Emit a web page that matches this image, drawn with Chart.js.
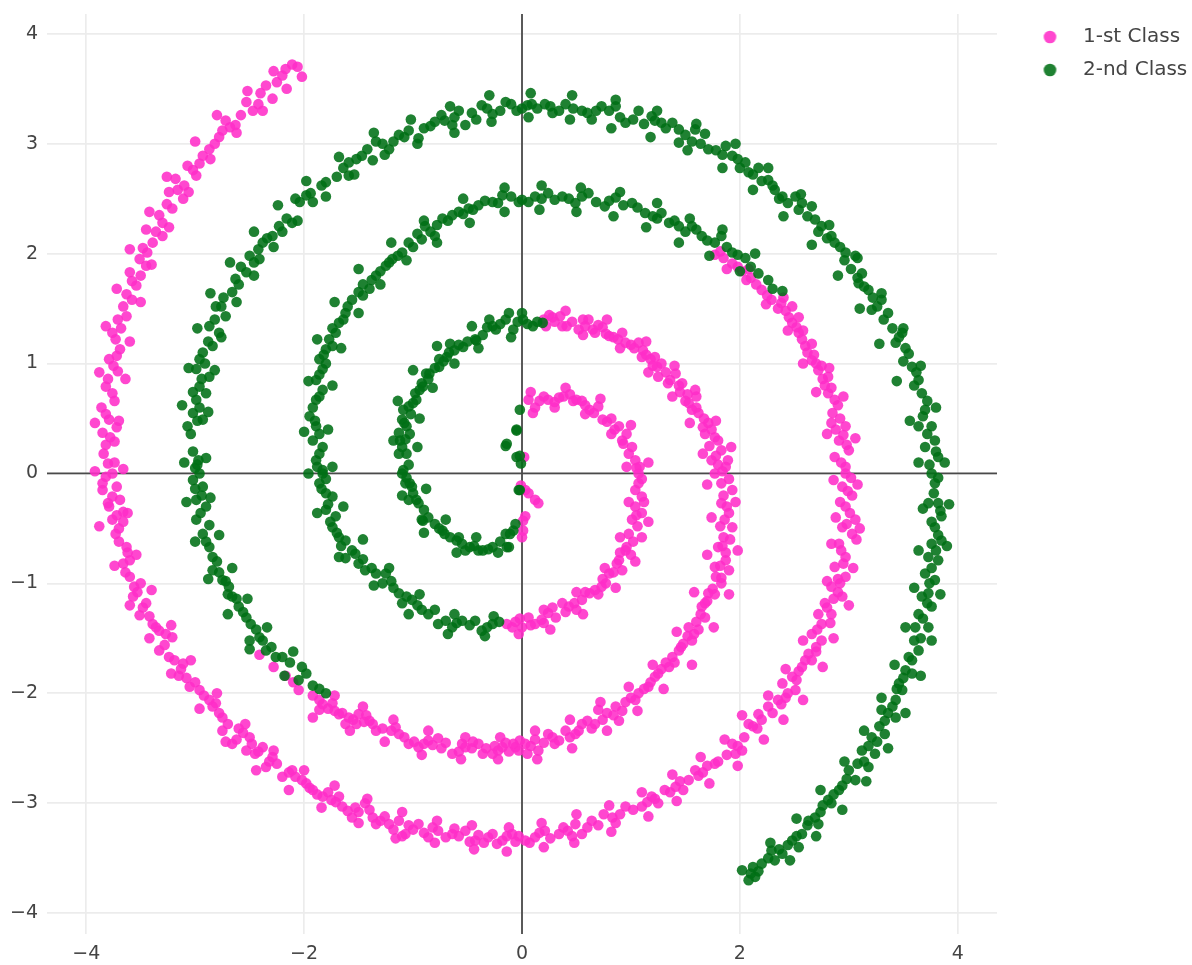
<!DOCTYPE html>
<html><head><meta charset="utf-8">
<script src="https://cdn.jsdelivr.net/npm/chart.js@4.4.1/dist/chart.umd.min.js"></script>
<style>html,body{margin:0;padding:0;background:#fff;}#wrap{width:1192px;height:965px;}</style>
</head><body><div id="wrap"><canvas id="c" width="1192" height="965"></canvas></div>
<script>
const seriesNames = ['1-st Class', '2-nd Class'];
const xTicks = [-4, -2, 0, 2, 4];
const yTicks = [-4, -3, -2, -1, 0, 1, 2, 3, 4];
const xRange = [-4.36, 4.36];
const yRange = [-4.19, 4.18];

// 1-st Class (pink) arms
const class1Center = [[0.02,0.15],[-0.01,-0.11],[0.03,-0.15],[0.06,-0.18],[0.12,-0.24],[0.15,-0.27],[0.03,-0.39],[0.01,-0.43],[0.0,-0.58],[0.01,-0.52]];
const class1Inner = [[0.06,0.67],[0.10,0.55],[0.12,0.60],[0.24,0.67],[0.30,0.65],[0.38,0.70],[0.44,0.72],[0.50,0.67],[0.55,0.66],[0.62,0.58],[0.70,0.61],[0.74,0.49],[0.78,0.47],[0.89,0.43],[0.92,0.30],[0.93,0.27],[1.01,0.24],[1.04,0.12],[1.05,0.05],[1.07,0.0],[1.10,-0.05],[1.07,-0.09],[1.10,-0.21],[1.04,-0.30],[1.10,-0.36],[1.01,-0.42],[1.06,-0.48],[1.10,-0.58],[0.98,-0.55],[0.96,-0.67],[0.95,-0.70],[0.89,-0.79],[0.92,-0.88],[0.87,-0.82],[0.80,-0.91],[0.77,-1.00],[0.73,-1.03],[0.67,-1.06],[0.62,-1.09],[0.55,-1.15],[0.48,-1.18],[0.43,-1.21],[0.37,-1.18],[0.31,-1.31],[0.24,-1.27],[0.18,-1.33],[0.12,-1.37],[0.06,-1.31],[0.0,-1.40],[-0.03,-1.46],[-0.06,-1.35],[-0.14,-1.37]];
const class1InnerB = [[0.16,0.66],[0.20,0.70],[0.34,0.69],[0.47,0.66],[0.58,0.62],[0.66,0.55],[0.82,0.50],[0.85,0.40],[0.96,0.36],[0.98,0.18],[1.08,0.06],[1.04,-0.15],[1.12,-0.26],[1.05,-0.38],[1.02,-0.62],[1.00,-0.74],[0.90,-0.72],[0.84,-0.90],[0.74,-0.96],[0.70,-1.10],[0.58,-1.08],[0.50,-1.24],[0.40,-1.26],[0.28,-1.22],[0.20,-1.36],[0.08,-1.38],[-0.02,-1.32],[-0.09,-1.40]];
const class1InnerC = [[0.08,0.74],[0.30,0.60],[0.40,0.78],[0.58,0.54],[0.72,0.68],[0.82,0.36],[1.00,0.44],[0.96,0.06],[1.16,0.10],[0.98,-0.26],[1.16,-0.44],[0.90,-0.58],[1.04,-0.80],[0.76,-0.86],[0.86,-1.04],[0.50,-1.08],[0.56,-1.28],[0.20,-1.24],[0.26,-1.42]];
const class1Middle = [[0.20,1.40],[0.25,1.44],[0.30,1.38],[0.35,1.43],[0.37,1.34],[0.41,1.34],[0.52,1.31],[0.56,1.40],[0.61,1.40],[0.65,1.31],[0.67,1.28],[0.74,1.33],[0.80,1.25],[0.84,1.24],[0.92,1.28],[0.95,1.19],[1.00,1.17],[1.07,1.19],[1.11,1.12],[1.10,1.06],[1.18,1.04],[1.22,1.06],[1.24,0.97],[1.28,1.00],[1.25,0.88],[1.36,0.85],[1.41,0.91],[1.44,0.80],[1.47,0.82],[1.52,0.72],[1.59,0.76],[1.53,0.64],[1.60,0.60],[1.62,0.55],[1.71,0.46],[1.66,0.42],[1.68,0.36],[1.77,0.33],[1.72,0.25],[1.83,0.21],[1.74,0.12],[1.80,0.08],[1.87,0.06],[1.77,0.0],[1.83,-0.09],[1.93,-0.15],[1.85,-0.20],[1.83,-0.27],[1.90,-0.36],[1.86,-0.42],[1.93,-0.49],[1.85,-0.58],[1.80,-0.67],[1.87,-0.72],[1.87,-0.79],[1.77,-0.85],[1.90,-0.88],[1.83,-0.95],[1.83,-1.00],[1.75,-1.05],[1.71,-1.09],[1.70,-1.16],[1.65,-1.21],[1.68,-1.31],[1.60,-1.35],[1.53,-1.40],[1.58,-1.46],[1.56,-1.52],[1.48,-1.55],[1.44,-1.61],[1.38,-1.67],[1.35,-1.76],[1.28,-1.78],[1.22,-1.85],[1.16,-1.94],[1.07,-2.00],[1.04,-2.06],[0.95,-2.08],[0.86,-2.12],[0.89,-2.25],[0.78,-2.18],[0.70,-2.15],[0.67,-2.28],[0.60,-2.25],[0.55,-2.28],[0.49,-2.37],[0.40,-2.34],[0.34,-2.43],[0.24,-2.37],[0.20,-2.45],[0.15,-2.52],[0.08,-2.48],[0.03,-2.46],[-0.03,-2.52],[-0.02,-2.43],[-0.06,-2.49],[-0.12,-2.53],[-0.18,-2.49],[-0.22,-2.52],[-0.27,-2.55],[-0.33,-2.50],[-0.40,-2.46],[-0.46,-2.50],[-0.52,-2.49],[-0.58,-2.53],[-0.64,-2.55],[-0.77,-2.41],[-0.82,-2.47],[-0.86,-2.43],[-0.95,-2.49],[-0.99,-2.44],[-1.04,-2.46],[-1.13,-2.37],[-1.16,-2.31],[-1.34,-2.34],[-1.37,-2.28],[-1.40,-2.25],[-1.45,-2.26],[-1.50,-2.19],[-1.55,-2.24],[-1.59,-2.22],[-1.62,-2.28],[-1.68,-2.19],[-1.74,-2.09],[-1.78,-2.14],[-1.86,-2.06],[-1.86,-2.15],[-2.05,-1.97],[-2.17,-1.84],[-2.41,-1.65]];
const class1MiddleB = [[0.28,1.42],[0.46,1.38],[0.58,1.34],[0.70,1.35],[0.77,1.27],[0.88,1.22],[1.03,1.14],[1.14,1.08],[1.20,0.98],[1.32,0.92],[1.34,0.82],[1.45,0.74],[1.50,0.66],[1.56,0.58],[1.67,0.50],[1.74,0.40],[1.80,0.30],[1.78,0.16],[1.89,0.12],[1.84,0.02],[1.90,-0.05],[1.88,-0.30],[1.82,-0.48],[1.91,-0.60],[1.84,-0.66],[1.82,-0.84],[1.78,-0.94],[1.77,-1.10],[1.68,-1.18],[1.64,-1.28],[1.62,-1.42],[1.52,-1.48],[1.46,-1.58],[1.40,-1.72],[1.32,-1.72],[1.25,-1.82],[1.18,-1.90],[1.12,-1.96],[1.00,-2.04],[0.92,-2.16],[0.84,-2.20],[0.74,-2.24],[0.64,-2.32],[0.52,-2.34],[0.44,-2.40],[0.30,-2.46],[0.28,-2.40],[0.12,-2.42],[0.05,-2.55],[-0.08,-2.46],[-0.15,-2.45],[-0.25,-2.48],[-0.36,-2.55],[-0.45,-2.44],[-0.55,-2.46],[-0.70,-2.45],[-0.74,-2.50],[-0.90,-2.46],[-1.08,-2.40],[-1.20,-2.34],[-1.28,-2.32],[-1.43,-2.20],[-1.52,-2.28],[-1.65,-2.18],[-1.72,-2.16],[-1.83,-2.10],[-1.92,-2.02],[-2.10,-1.90],[-2.28,-1.76]];
const class1MiddleC = [[0.22,1.34],[0.40,1.48],[0.56,1.26],[0.78,1.40],[0.90,1.14],[1.14,1.20],[1.16,0.92],[1.40,0.98],[1.38,0.70],[1.60,0.70],[1.54,0.46],[1.78,0.48],[1.66,0.18],[1.92,0.24],[1.70,-0.10],[1.96,-0.26],[1.74,-0.40],[1.98,-0.70],[1.70,-0.74],[1.90,-1.10],[1.58,-1.08],[1.76,-1.40],[1.42,-1.44],[1.56,-1.74],[1.20,-1.74],[1.30,-1.96],[0.98,-1.94],[1.06,-2.16],[0.72,-2.08],[0.78,-2.34],[0.44,-2.24],[0.46,-2.50],[0.12,-2.34],[0.14,-2.60],[-0.20,-2.40],[-0.22,-2.60],[-0.52,-2.40],[-0.56,-2.60],[-0.86,-2.34],[-0.92,-2.56],[-1.18,-2.24],[-1.26,-2.44],[-1.46,-2.12],[-1.58,-2.34],[-1.72,-2.02],[-1.92,-2.22]];
const class1Outer = [[1.77,1.99],[1.85,1.96],[1.93,1.91],[2.02,1.84],[2.10,1.78],[2.20,1.67],[2.29,1.58],[2.38,1.55],[2.48,1.52],[2.45,1.42],[2.48,1.37],[2.54,1.28],[2.57,1.22],[2.60,1.16],[2.66,1.03],[2.70,1.00],[2.72,0.94],[2.81,0.88],[2.78,0.80],[2.81,0.73],[2.87,0.67],[2.85,0.55],[2.84,0.46],[2.97,0.43],[2.91,0.30],[2.95,0.35],[3.00,0.21],[2.87,0.15],[2.97,0.06],[2.97,0.0],[2.94,-0.12],[3.03,-0.20],[2.97,-0.30],[3.06,-0.42],[2.94,-0.49],[3.03,-0.55],[2.91,-0.64],[2.97,-0.76],[2.93,-0.70],[2.87,-0.85],[2.97,-0.94],[2.84,-1.03],[2.90,-1.08],[2.94,-1.12],[2.78,-1.18],[2.84,-1.28],[2.80,-1.22],[2.75,-1.37],[2.66,-1.46],[2.75,-1.52],[2.70,-1.58],[2.63,-1.64],[2.57,-1.76],[2.60,-1.70],[2.48,-1.85],[2.39,-1.91],[2.51,-1.97],[2.44,-2.00],[2.35,-2.06],[2.26,-2.12],[2.30,-2.18],[2.17,-2.19],[2.08,-2.28],[2.12,-2.30],[1.93,-2.46],[2.02,-2.52],[1.96,-2.55],[1.80,-2.62],[1.77,-2.64],[1.59,-2.70],[1.53,-2.79],[1.62,-2.75],[1.41,-2.85],[1.48,-2.88],[1.31,-2.88],[1.19,-2.94],[1.25,-3.00],[1.10,-3.03],[0.95,-3.03],[0.83,-3.13],[0.75,-3.10],[0.64,-3.16],[0.49,-3.19],[0.55,-3.28],[0.42,-3.25],[0.34,-3.28],[0.21,-3.25],[0.12,-3.31],[0.03,-3.34],[-0.03,-3.30],[-0.09,-3.28],[-0.18,-3.34],[-0.27,-3.28],[-0.35,-3.36],[-0.43,-3.34],[-0.52,-3.25],[-0.58,-3.30],[-0.64,-3.28],[-0.77,-3.25],[-0.86,-3.31],[-0.95,-3.19],[-1.00,-3.24],[-1.07,-3.28],[-1.13,-3.16],[-1.22,-3.19],[-1.30,-3.16],[-1.37,-3.13],[-1.44,-3.00],[-1.50,-3.08],[-1.56,-3.13],[-1.65,-3.03],[-1.68,-2.94],[-1.75,-2.97],[-1.83,-2.94],[-1.92,-2.88],[-1.98,-2.82],[-2.08,-2.76],[-2.14,-2.72],[-2.20,-2.76],[-2.29,-2.58],[-2.35,-2.67],[-2.38,-2.49],[-2.45,-2.55],[-2.50,-2.40],[-2.53,-2.52],[-2.60,-2.32],[-2.66,-2.46],[-2.75,-2.22],[-2.75,-2.34],[-2.81,-2.09],[-2.87,-2.06],[-2.96,-1.97],[-3.05,-1.94],[-3.15,-1.84],[-3.11,-1.73],[-3.24,-1.67],[-3.33,-1.61],[-3.21,-1.49],[-3.33,-1.43],[-3.39,-1.37],[-3.51,-1.29],[-3.45,-1.18],[-3.57,-1.12],[-3.56,-1.03],[-3.60,-0.94],[-3.66,-0.82],[-3.60,-0.79],[-3.63,-0.67],[-3.73,-0.55],[-3.66,-0.44],[-3.76,-0.42],[-3.66,-0.35],[-3.79,-0.30],[-3.69,-0.24],[-3.76,-0.21],[-3.85,-0.15],[-3.85,-0.09],[-3.76,0.0],[-3.80,0.09],[-3.82,0.26],[-3.74,0.29],[-3.85,0.37],[-3.79,0.49],[-3.86,0.60],[-3.76,0.73],[-3.82,0.79],[-3.71,0.93],[-3.79,1.04],[-3.69,1.13],[-3.73,1.22],[-3.76,1.28],[-3.63,1.43],[-3.71,1.40],[-3.63,1.63],[-3.54,1.71],[-3.60,1.83],[-3.45,1.89],[-3.51,1.95],[-3.44,2.01],[-3.39,2.10],[-3.30,2.16],[-3.45,2.22],[-3.33,2.35],[-3.21,2.41],[-3.11,2.50],[-3.24,2.56],[-3.18,2.68],[-2.99,2.71],[-3.07,2.80],[-2.93,2.89],[-2.87,2.95],[-2.75,3.12],[-2.63,3.17],[-2.72,3.21],[-2.47,3.30],[-2.53,3.38],[-2.29,3.41],[-2.35,3.53],[-2.17,3.68],[-2.11,3.72],[-2.02,3.61]];
const class1OuterB = [[1.82,2.02],[1.98,1.88],[2.06,1.76],[2.15,1.72],[2.25,1.62],[2.35,1.50],[2.42,1.48],[2.52,1.33],[2.58,1.30],[2.62,1.10],[2.68,1.08],[2.75,0.98],[2.76,0.86],[2.84,0.78],[2.90,0.62],[2.92,0.50],[2.88,0.40],[2.98,0.26],[2.93,0.10],[3.02,-0.04],[2.99,-0.16],[2.92,-0.26],[3.01,-0.36],[2.98,-0.46],[3.07,-0.60],[2.95,-0.82],[2.90,-0.96],[2.92,-1.00],[2.86,-1.14],[2.83,-1.36],[2.71,-1.42],[2.70,-1.62],[2.66,-1.70],[2.54,-1.80],[2.52,-1.88],[2.42,-2.04],[2.38,-2.10],[2.20,-2.24],[2.16,-2.32],[2.04,-2.40],[1.98,-2.48],[1.88,-2.56],[1.70,-2.66],[1.66,-2.72],[1.45,-2.80],[1.36,-2.90],[1.22,-2.96],[1.15,-2.99],[1.02,-3.06],[0.90,-3.10],[0.86,-3.18],[0.70,-3.20],[0.60,-3.22],[0.46,-3.30],[0.38,-3.22],[0.26,-3.32],[0.16,-3.27],[0.07,-3.36],[-0.06,-3.35],[-0.14,-3.30],[-0.23,-3.37],[-0.31,-3.31],[-0.40,-3.29],[-0.48,-3.35],[-0.62,-3.23],[-0.70,-3.31],[-0.82,-3.22],[-0.90,-3.27],[-1.04,-3.20],[-1.10,-3.30],[-1.18,-3.24],[-1.26,-3.12],[-1.34,-3.19],[-1.40,-3.06],[-1.53,-3.04],[-1.60,-3.07],[-1.71,-2.99],[-1.78,-2.90],[-1.88,-2.92],[-1.95,-2.86],[-2.02,-2.79],[-2.11,-2.70],[-2.25,-2.64],[-2.32,-2.62],[-2.42,-2.53],[-2.48,-2.46],[-2.56,-2.36],[-2.62,-2.42],[-2.70,-2.28],[-2.78,-2.18],[-2.84,-2.12],[-2.92,-2.02],[-3.00,-1.90],[-3.08,-1.86],[-3.13,-1.78],[-3.19,-1.70],[-3.28,-1.56],[-3.27,-1.46],[-3.36,-1.40],[-3.42,-1.30],[-3.48,-1.22],[-3.53,-1.08],[-3.50,-1.00],[-3.64,-0.90],[-3.62,-0.72],[-3.70,-0.62],[-3.70,-0.50],[-3.72,-0.38],[-3.80,-0.27],[-3.72,-0.12],[-3.82,-0.03],[-3.74,0.10],[-3.84,0.18],[-3.78,0.33],[-3.72,0.42],[-3.82,0.54],[-3.74,0.66],[-3.80,0.86],[-3.75,0.98],[-3.72,1.07],[-3.68,1.32],[-3.66,1.52],[-3.58,1.58],[-3.58,1.75],[-3.50,1.80],[-3.48,2.05],[-3.36,2.20],[-3.30,2.28],[-3.26,2.45],[-3.16,2.58],[-3.10,2.62],[-3.02,2.76],[-2.96,2.82],[-2.82,3.00],[-2.78,3.06],[-2.68,3.15],[-2.58,3.26],[-2.42,3.36],[-2.40,3.46],[-2.25,3.56],[-2.20,3.62],[-2.06,3.70]];
const class1OuterC = [[1.88,1.86],[2.08,1.86],[2.24,1.54],[2.40,1.60],[2.54,1.42],[2.44,1.30],[2.66,1.18],[2.58,1.00],[2.82,0.96],[2.70,0.74],[2.95,0.70],[2.80,0.36],[3.06,0.32],[2.86,-0.06],[3.08,-0.10],[2.88,-0.40],[3.10,-0.50],[2.84,-0.64],[3.04,-0.86],[2.80,-0.98],[3.00,-1.20],[2.72,-1.28],[2.86,-1.50],[2.58,-1.52],[2.76,-1.76],[2.42,-1.78],[2.58,-2.06],[2.26,-2.02],[2.40,-2.24],[2.02,-2.20],[2.22,-2.42],[1.86,-2.42],[1.98,-2.66],[1.64,-2.58],[1.72,-2.82],[1.38,-2.74],[1.42,-2.98],[1.10,-2.90],[1.16,-3.12],[0.80,-3.02],[0.82,-3.26],[0.50,-3.10],[0.48,-3.36],[0.18,-3.18],[0.20,-3.40],[-0.12,-3.22],[-0.14,-3.44],[-0.46,-3.20],[-0.44,-3.42],[-0.78,-3.16],[-0.80,-3.36],[-1.10,-3.08],[-1.16,-3.32],[-1.42,-2.96],[-1.50,-3.18],[-1.72,-2.84],[-1.84,-3.04],[-2.00,-2.70],[-2.14,-2.88],[-2.28,-2.52],[-2.44,-2.70],[-2.54,-2.28],[-2.72,-2.44],[-2.80,-2.00],[-2.96,-2.14],[-3.04,-1.70],[-3.22,-1.82],[-3.22,-1.38],[-3.42,-1.50],[-3.40,-1.06],[-3.60,-1.20],[-3.54,-0.74],[-3.74,-0.84],[-3.62,-0.36],[-3.88,-0.48],[-3.66,0.04],[-3.92,0.02],[-3.70,0.48],[-3.92,0.46],[-3.64,0.86],[-3.88,0.92],[-3.60,1.20],[-3.82,1.34],[-3.50,1.56],[-3.72,1.68],[-3.40,1.90],[-3.60,2.04],[-3.24,2.24],[-3.42,2.38],[-3.06,2.56],[-3.26,2.70],[-2.86,2.86],[-3.00,3.02],[-2.62,3.10],[-2.80,3.26],[-2.38,3.30],[-2.52,3.48],[-2.16,3.50],[-2.28,3.66]];

// 2-nd Class (green) arms
const class2Center = [[-0.02,0.58],[-0.05,0.40],[-0.05,0.39],[-0.14,0.27],[-0.15,0.25],[-0.05,0.15],[-0.02,0.16],[-0.01,0.09],[-0.02,-0.15],[-0.03,-0.15]];
const class2Inner = [[-0.08,-0.52],[-0.11,-0.55],[-0.15,-0.55],[-0.12,-0.67],[-0.14,-0.67],[-0.27,-0.67],[-0.36,-0.70],[-0.40,-0.70],[-0.48,-0.67],[-0.52,-0.70],[-0.58,-0.58],[-0.60,-0.61],[-0.71,-0.55],[-0.73,-0.52],[-0.80,-0.46],[-0.91,-0.43],[-0.92,-0.42],[-0.95,-0.27],[-0.97,-0.24],[-1.04,-0.24],[-1.01,-0.12],[-1.03,-0.09],[-1.07,-0.09],[-1.10,0.0],[-1.09,0.03],[-1.13,0.18],[-1.06,0.18],[-1.07,0.31],[-1.12,0.30],[-1.13,0.37],[-1.06,0.43],[-1.10,0.49],[-1.09,0.58],[-1.04,0.61],[-0.97,0.67],[-0.98,0.73],[-0.91,0.79],[-0.92,0.82],[-0.88,0.91],[-0.85,0.91],[-0.76,0.97],[-0.76,1.04],[-0.69,1.06],[-0.67,1.10],[-0.66,1.18],[-0.58,1.17],[-0.54,1.15],[-0.43,1.22],[-0.42,1.21],[-0.30,1.40],[-0.27,1.34],[-0.24,1.31],[-0.15,1.40],[-0.08,1.31],[0.0,1.46],[0.01,1.40],[0.10,1.34],[0.19,1.37]];
const class2InnerB = [[-0.20,-0.62],[-0.31,-0.69],[-0.44,-0.66],[-0.55,-0.64],[-0.66,-0.58],[-0.76,-0.50],[-0.86,-0.40],[-0.90,-0.33],[-1.00,-0.18],[-1.06,-0.04],[-1.04,0.08],[-1.10,0.24],[-1.03,0.36],[-1.08,0.46],[-1.02,0.54],[-1.00,0.64],[-0.94,0.76],[-0.86,0.86],[-0.80,0.96],[-0.72,1.02],[-0.62,1.12],[-0.50,1.20],[-0.36,1.26],[-0.32,1.33],[-0.20,1.36],[-0.04,1.38],[0.05,1.36],[0.14,1.38]];
const class2InnerC = [[-0.06,-0.46],[-0.22,-0.72],[-0.42,-0.58],[-0.60,-0.72],[-0.70,-0.42],[-0.90,-0.54],[-0.88,-0.14],[-1.10,-0.20],[-0.96,0.24],[-1.18,0.30],[-0.94,0.50],[-1.14,0.66],[-0.82,0.78],[-1.00,0.94],[-0.62,1.00],[-0.78,1.16],[-0.40,1.14],[-0.46,1.34],[-0.10,1.24],[-0.12,1.46]];
const class2Middle = [[-0.21,-1.35],[-0.27,-1.37],[-0.37,-1.43],[-0.43,-1.34],[-0.55,-1.34],[-0.64,-1.40],[-0.77,-1.37],[-0.80,-1.24],[-0.92,-1.24],[-1.01,-1.15],[-1.10,-1.18],[-1.13,-1.09],[-1.25,-0.91],[-1.28,-1.00],[-1.34,-0.91],[-1.44,-0.88],[-1.50,-0.82],[-1.53,-0.73],[-1.62,-0.77],[-1.62,-0.61],[-1.68,-0.58],[-1.74,-0.49],[-1.71,-0.39],[-1.80,-0.33],[-1.74,-0.21],[-1.80,-0.18],[-1.86,-0.09],[-1.83,0.0],[-1.83,0.03],[-1.89,0.12],[-1.83,0.24],[-1.92,0.30],[-1.89,0.43],[-1.95,0.52],[-1.89,0.67],[-1.83,0.76],[-1.89,0.85],[-1.83,0.95],[-1.86,1.04],[-1.80,1.13],[-1.77,1.22],[-1.71,1.28],[-1.68,1.37],[-1.62,1.46],[-1.56,1.58],[-1.50,1.65],[-1.40,1.68],[-1.34,1.80],[-1.25,1.89],[-1.19,1.95],[-1.10,2.01],[-1.04,2.10],[-0.92,2.13],[-0.80,2.16],[-0.89,2.25],[-0.73,2.32],[-0.64,2.35],[-0.58,2.38],[-0.49,2.41],[-0.40,2.44],[-0.27,2.47],[-0.18,2.53],[-0.03,2.47],[0.0,2.49],[0.12,2.52],[0.24,2.55],[0.37,2.52],[0.49,2.46],[0.61,2.55],[0.76,2.43],[0.86,2.51],[1.01,2.46],[1.13,2.37],[1.28,2.37],[1.35,2.28],[1.44,2.25],[1.56,2.25],[1.65,2.16],[1.77,2.10],[1.83,2.16],[1.93,2.01],[2.05,1.96],[2.17,1.82],[2.39,1.66]];
const class2MiddleB = [[-0.32,-1.40],[-0.48,-1.38],[-0.60,-1.36],[-0.70,-1.34],[-0.86,-1.28],[-0.96,-1.20],[-1.06,-1.12],[-1.18,-1.04],[-1.20,-0.98],[-1.38,-0.86],[-1.46,-0.78],[-1.56,-0.70],[-1.66,-0.66],[-1.70,-0.54],[-1.76,-0.44],[-1.78,-0.28],[-1.84,-0.14],[-1.80,-0.05],[-1.88,0.06],[-1.86,0.18],[-1.86,0.36],[-1.90,0.48],[-1.92,0.60],[-1.86,0.70],[-1.86,0.90],[-1.80,1.00],[-1.82,1.08],[-1.74,1.16],[-1.74,1.32],[-1.64,1.40],[-1.60,1.52],[-1.46,1.62],[-1.46,1.72],[-1.38,1.76],[-1.30,1.84],[-1.22,1.92],[-1.14,1.98],[-1.00,2.06],[-0.96,2.18],[-0.84,2.20],[-0.78,2.26],[-0.68,2.30],[-0.54,2.36],[-0.45,2.40],[-0.34,2.48],[-0.22,2.46],[-0.10,2.52],[0.06,2.47],[0.18,2.50],[0.30,2.49],[0.43,2.50],[0.55,2.52],[0.68,2.47],[0.80,2.48],[0.93,2.44],[1.06,2.42],[1.20,2.34],[1.24,2.32],[1.40,2.30],[1.50,2.20],[1.60,2.22],[1.70,2.12],[1.88,2.06],[1.98,1.99],[2.10,1.88],[2.26,1.76]];
const class2MiddleC = [[-0.26,-1.30],[-0.34,-1.48],[-0.62,-1.28],[-0.68,-1.46],[-0.94,-1.10],[-1.04,-1.28],[-1.22,-0.86],[-1.36,-1.02],[-1.46,-0.60],[-1.68,-0.76],[-1.64,-0.30],[-1.88,-0.36],[-1.74,0.06],[-1.96,0.00],[-1.78,0.40],[-2.00,0.38],[-1.74,0.80],[-1.96,0.84],[-1.66,1.14],[-1.88,1.22],[-1.50,1.46],[-1.72,1.56],[-1.30,1.72],[-1.50,1.86],[-1.06,1.94],[-1.20,2.10],[-0.78,2.10],[-0.90,2.30],[-0.48,2.28],[-0.54,2.50],[-0.16,2.38],[-0.16,2.60],[0.16,2.40],[0.18,2.62],[0.50,2.38],[0.54,2.60],[0.84,2.34],[0.90,2.56],[1.14,2.24],[1.24,2.46],[1.44,2.10],[1.54,2.32],[1.72,1.98],[1.84,2.22],[2.00,1.84],[2.14,2.00],[2.30,1.68]];
const class2Outer = [[-1.80,-2.00],[-1.92,-1.93],[-1.98,-1.82],[-2.05,-1.88],[-2.20,-1.67],[-2.26,-1.67],[-2.35,-1.61],[-2.41,-1.49],[-2.50,-1.52],[-2.49,-1.37],[-2.53,-1.31],[-2.60,-1.21],[-2.66,-1.12],[-2.69,-1.03],[-2.75,-0.97],[-2.84,-0.88],[-2.84,-0.76],[-2.87,-0.67],[-2.87,-0.47],[-2.99,-0.42],[-2.90,-0.30],[-2.99,-0.24],[-2.93,-0.12],[-3.02,-0.06],[-2.96,0.0],[-3.00,0.05],[-2.97,0.12],[-3.02,0.20],[-3.07,0.43],[-3.02,0.55],[-2.93,0.49],[-2.99,0.67],[-2.90,0.73],[-2.96,0.79],[-2.99,0.95],[-2.87,0.88],[-2.93,1.10],[-2.84,1.16],[-2.87,1.34],[-2.78,1.28],[-2.81,1.52],[-2.72,1.43],[-2.66,1.65],[-2.63,1.77],[-2.53,1.83],[-2.50,1.98],[-2.41,1.95],[-2.38,2.10],[-2.29,2.16],[-2.23,2.25],[-2.11,2.28],[-2.08,2.50],[-1.98,2.53],[-1.92,2.47],[-1.80,2.65],[-1.59,2.71],[-1.59,2.83],[-1.47,2.89],[-1.34,3.02],[-1.37,2.85],[-1.22,2.95],[-1.13,3.08],[-1.04,3.12],[-0.95,3.05],[-0.80,3.20],[-0.71,3.21],[-0.64,3.17],[-0.58,3.30],[-0.52,3.17],[-0.37,3.35],[-0.27,3.27],[-0.15,3.38],[-0.05,3.30],[0.05,3.35],[0.09,3.36],[0.21,3.36],[0.28,3.28],[0.40,3.36],[0.55,3.30],[0.64,3.22],[0.73,3.34],[0.86,3.34],[0.95,3.19],[1.07,3.30],[1.19,3.25],[1.28,3.19],[1.38,3.19],[1.44,3.13],[1.44,3.01],[1.59,3.13],[1.68,3.09],[1.71,2.95],[1.87,2.98],[1.93,2.89],[2.05,2.83],[2.08,2.74],[2.17,2.78],[2.26,2.67],[2.32,2.58],[2.39,2.52],[2.51,2.52],[2.57,2.46],[2.66,2.43],[2.69,2.31],[2.75,2.25],[2.84,2.16],[2.87,2.10],[2.97,2.01],[3.06,1.98],[3.12,1.82],[3.09,1.73],[3.18,1.67],[3.30,1.58],[3.21,1.49],[3.36,1.46],[3.49,1.28],[3.43,1.19],[3.55,1.09],[3.58,0.97],[3.64,0.85],[3.67,0.73],[3.70,0.58],[3.64,0.43],[3.76,0.43],[3.79,0.30],[3.70,0.24],[3.82,0.15],[3.76,0.0],[3.79,-0.09],[3.73,-0.27],[3.82,-0.27],[3.85,-0.39],[3.79,-0.49],[3.85,-0.61],[3.76,-0.64],[3.73,-0.76],[3.82,-0.79],[3.70,-0.91],[3.79,-0.97],[3.73,-1.09],[3.67,-1.12],[3.76,-1.21],[3.64,-1.28],[3.73,-1.40],[3.61,-1.40],[3.64,-1.61],[3.55,-1.67],[3.52,-1.79],[3.58,-1.82],[3.46,-1.91],[3.49,-1.97],[3.43,-2.06],[3.30,-2.15],[3.43,-2.22],[3.33,-2.25],[3.21,-2.40],[3.33,-2.37],[3.12,-2.52],[3.24,-2.55],[3.18,-2.67],[3.00,-2.70],[3.06,-2.79],[2.91,-2.88],[2.81,-2.97],[2.84,-3.00],[2.69,-3.13],[2.63,-3.16],[2.72,-3.19],[2.57,-3.28],[2.48,-3.34],[2.54,-3.40],[2.39,-3.46],[2.29,-3.43],[2.32,-3.52],[2.20,-3.55],[2.14,-3.67],[2.08,-3.70],[2.02,-3.61]];
const class2OuterB = [[-1.86,-1.96],[-2.02,-1.76],[-2.13,-1.72],[-2.30,-1.58],[-2.38,-1.52],[-2.44,-1.42],[-2.56,-1.26],[-2.62,-1.14],[-2.70,-1.10],[-2.72,-0.98],[-2.78,-0.90],[-2.80,-0.80],[-2.90,-0.62],[-2.93,-0.55],[-2.95,-0.36],[-2.94,-0.20],[-3.00,-0.14],[-2.98,0.08],[-3.04,0.36],[-2.98,0.48],[-2.96,0.60],[-3.02,0.74],[-2.94,0.86],[-2.91,1.00],[-2.96,1.04],[-2.88,1.20],[-2.82,1.40],[-2.76,1.52],[-2.74,1.60],[-2.60,1.72],[-2.58,1.88],[-2.46,1.92],[-2.42,2.04],[-2.34,2.14],[-2.20,2.20],[-2.16,2.32],[-2.04,2.47],[-1.94,2.55],[-1.84,2.62],[-1.70,2.70],[-1.64,2.78],[-1.52,2.86],[-1.42,2.95],[-1.28,3.00],[-1.18,3.02],[-1.08,3.06],[-0.90,3.14],[-0.84,3.16],[-0.74,3.26],[-0.62,3.24],[-0.46,3.28],[-0.42,3.22],[-0.32,3.32],[-0.20,3.30],[-0.10,3.36],[0.00,3.32],[0.14,3.32],[0.26,3.34],[0.34,3.30],[0.47,3.32],[0.60,3.28],[0.68,3.30],[0.80,3.30],[0.90,3.24],[1.02,3.22],[1.12,3.18],[1.22,3.21],[1.32,3.14],[1.50,3.08],[1.56,3.02],[1.64,3.00],[1.78,2.94],[1.84,2.90],[1.98,2.86],[2.00,2.78],[2.12,2.72],[2.20,2.66],[2.30,2.62],[2.36,2.50],[2.44,2.46],[2.54,2.40],[2.62,2.34],[2.72,2.20],[2.80,2.14],[2.92,2.06],[2.96,1.94],[3.02,1.86],[3.08,1.78],[3.14,1.70],[3.22,1.60],[3.26,1.52],[3.32,1.40],[3.40,1.32],[3.46,1.24],[3.52,1.14],[3.50,1.02],[3.62,0.92],[3.60,0.80],[3.72,0.66],[3.68,0.52],[3.72,0.36],[3.80,0.20],[3.74,0.08],[3.82,-0.04],[3.78,-0.18],[3.84,-0.34],[3.76,-0.44],[3.82,-0.56],[3.80,-0.70],[3.76,-0.86],[3.74,-1.00],[3.72,-1.18],[3.68,-1.32],[3.66,-1.50],[3.60,-1.52],[3.58,-1.70],[3.50,-1.86],[3.44,-1.96],[3.40,-2.12],[3.36,-2.18],[3.28,-2.30],[3.26,-2.44],[3.18,-2.48],[3.14,-2.62],[3.08,-2.64],[2.98,-2.78],[2.94,-2.84],[2.86,-2.92],[2.76,-3.02],[2.74,-3.08],[2.62,-3.20],[2.52,-3.30],[2.44,-3.38],[2.36,-3.42],[2.26,-3.50],[2.17,-3.62],[2.10,-3.64]];
const class2OuterC = [[-2.10,-1.62],[-2.18,-1.84],[-2.34,-1.40],[-2.50,-1.60],[-2.52,-1.14],[-2.70,-1.28],[-2.66,-0.86],[-2.88,-0.96],[-2.78,-0.56],[-3.00,-0.62],[-2.86,-0.22],[-3.08,-0.26],[-2.90,0.14],[-3.10,0.10],[-2.88,0.56],[-3.12,0.62],[-2.82,0.94],[-3.06,0.96],[-2.76,1.24],[-2.98,1.32],[-2.62,1.56],[-2.86,1.64],[-2.46,1.80],[-2.68,1.92],[-2.28,2.06],[-2.46,2.20],[-2.06,2.30],[-2.24,2.44],[-1.80,2.52],[-1.98,2.66],[-1.54,2.72],[-1.68,2.88],[-1.26,2.90],[-1.36,3.10],[-0.96,3.00],[-1.02,3.22],[-0.62,3.10],[-0.66,3.34],[-0.28,3.20],[-0.30,3.44],[0.06,3.24],[0.08,3.46],[0.44,3.22],[0.46,3.44],[0.82,3.14],[0.86,3.40],[1.18,3.06],[1.24,3.30],[1.52,2.94],[1.60,3.18],[1.84,2.78],[1.96,3.00],[2.12,2.58],[2.26,2.78],[2.40,2.34],[2.56,2.54],[2.66,2.08],[2.82,2.26],[2.90,1.80],[3.08,1.96],[3.10,1.50],[3.30,1.64],[3.28,1.18],[3.50,1.32],[3.44,0.84],[3.66,0.98],[3.56,0.48],[3.80,0.60],[3.64,0.10],[3.88,0.10],[3.68,-0.32],[3.92,-0.28],[3.64,-0.70],[3.90,-0.66],[3.60,-1.04],[3.84,-1.10],[3.52,-1.40],[3.76,-1.52],[3.42,-1.74],[3.66,-1.84],[3.30,-2.04],[3.52,-2.18],[3.14,-2.34],[3.36,-2.50],[2.96,-2.62],[3.16,-2.80],[2.74,-2.88],[2.94,-3.06],[2.52,-3.14],[2.70,-3.30],[2.28,-3.36],[2.46,-3.52],[2.12,-3.58]];

const class1Color = 'rgba(255,45,200,0.88)';
const class2Color = 'rgba(0,112,22,0.88)';

function toPts(arr) { return arr.map(p => ({x: p[0], y: p[1]})); }
function legendMarker(color) {
  const cv = document.createElement('canvas');
  cv.width = 34; cv.height = 16;
  const g = cv.getContext('2d');
  g.fillStyle = color;
  g.beginPath(); g.arc(25.5, 8, 6.3, 0, Math.PI * 2); g.fill();
  return cv;
}
const fmt = v => (v < 0 ? '\u2212' + Math.abs(v) : String(v));
const TICK_FONT = {family: "'DejaVu Sans', Verdana, sans-serif", size: 19};
const LEGEND_FONT = {family: "'DejaVu Sans', Verdana, sans-serif", size: 20};

const zeroLines = {
  id: 'zeroLines',
  beforeDatasetsDraw(chart) {
    const {ctx, chartArea: a, scales} = chart;
    const x0 = scales.x.getPixelForValue(0), y0 = scales.y.getPixelForValue(0);
    ctx.save();
    ctx.strokeStyle = '#4a4a4a'; ctx.lineWidth = 1.8;
    ctx.beginPath();
    ctx.moveTo(x0, a.top); ctx.lineTo(x0, a.bottom);
    ctx.moveTo(a.left, y0); ctx.lineTo(a.right, y0);
    ctx.stroke();
    ctx.restore();
  }
};

new Chart(document.getElementById('c'), {
  type: 'scatter',
  data: {
    datasets: [
      {label: seriesNames[0], data: toPts([].concat(class1Center, class1Inner, class1InnerB, class1InnerC, class1Middle, class1MiddleB, class1MiddleC, class1Outer, class1OuterB, class1OuterC)),
       backgroundColor: class1Color, borderWidth: 0, pointRadius: 5.3, pointHoverRadius: 5.3, order: 2},
      {label: seriesNames[1], data: toPts([].concat(class2Center, class2Inner, class2InnerB, class2InnerC, class2Middle, class2MiddleB, class2MiddleC, class2Outer, class2OuterB, class2OuterC)),
       backgroundColor: class2Color, borderWidth: 0, pointRadius: 5.3, pointHoverRadius: 5.3, order: 1}
    ]
  },
  options: {
    responsive: false,
    animation: false,
    layout: {padding: {top: 14, left: 0, right: 0, bottom: 0}},
    plugins: {
      tooltip: {enabled: false},
      legend: {
        position: 'right', align: 'start', maxWidth: 195,
        labels: {
          usePointStyle: true, pointStyleWidth: 63, padding: 13,
          color: '#444', font: LEGEND_FONT,
          sort: (a, b) => a.datasetIndex - b.datasetIndex,
          generateLabels: (chart) => chart.data.datasets.map((d, i) => ({
            text: d.label, datasetIndex: i, hidden: false, lineWidth: 0,
            fillStyle: d.backgroundColor, strokeStyle: 'transparent',
            pointStyle: legendMarker(d.backgroundColor), fontColor: '#444'
          }))
        }
      }
    },
    scales: {
      x: {
        type: 'linear', min: xRange[0], max: xRange[1],
        afterBuildTicks: ax => { ax.ticks = xTicks.map(v => ({value: v})); },
        afterFit: s => { s.height = 31; s.paddingLeft = 0; s.paddingRight = 0; },
        grid: {color: '#ececec', lineWidth: 1.7, drawTicks: false},
        border: {display: false},
        ticks: {padding: 9, color: '#444', font: TICK_FONT, maxRotation: 0, autoSkip: false, callback: v => fmt(v)}
      },
      y: {
        type: 'linear', min: yRange[0], max: yRange[1],
        afterBuildTicks: ax => { ax.ticks = yTicks.map(v => ({value: v})); },
        afterFit: s => { s.width = 47; s.paddingTop = 0; s.paddingBottom = 0; },
        grid: {color: '#ececec', lineWidth: 1.7, drawTicks: false},
        border: {display: false},
        ticks: {padding: 9, color: '#444', font: TICK_FONT, autoSkip: false, callback: v => fmt(v)}
      }
    }
  },
  plugins: [zeroLines]
});
</script>
</body></html>
